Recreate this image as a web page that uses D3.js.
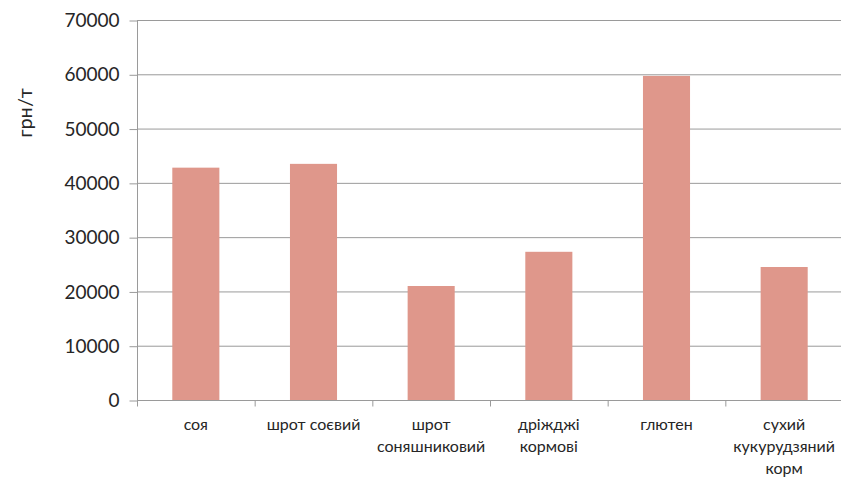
<!DOCTYPE html>
<html>
<head>
<meta charset="utf-8">
<script src="https://cdn.jsdelivr.net/npm/d3@7"></script>
<style>
  html, body { margin: 0; padding: 0; background: #fff; }
  svg { display: block; }
</style>
</head>
<body>
<svg id="chart" width="841" height="477"></svg>
<script>
const categories = ["соя", "шрот соєвий", "шрот соняшниковий", "дріжджі кормові", "глютен", "сухий кукурудзяний корм"];
const values = [42800, 43500, 21000, 27300, 59700, 24500];
const yTicks = [0, 10000, 20000, 30000, 40000, 50000, 60000, 70000];
const yTitle = "грн/т";

const svg = d3.select("#chart");
const mLeft = 137, mRight = 843, mTop = 20, mBottom = 400;

const x = d3.scaleBand().domain(categories).range([mLeft, mRight]).paddingInner(0.6).paddingOuter(0.3);
const y = d3.scaleLinear().domain([0, 70000]).range([mBottom, mTop]);

const gridColor = "#9a9a9a";
const textColor = "#262626";

// gridlines
svg.append("g").selectAll("line").data(yTicks.filter(d => d > 0)).join("line")
  .attr("x1", mLeft).attr("x2", 841)
  .attr("y1", d => y(d) + 0.5).attr("y2", d => y(d) + 0.5)
  .attr("stroke", gridColor).attr("stroke-width", 1);

// bars
svg.append("g").selectAll("rect").data(values).join("rect")
  .attr("x", (d, i) => x(categories[i]))
  .attr("width", x.bandwidth())
  .attr("y", d => y(d))
  .attr("height", d => y(0) - y(d))
  .attr("fill", "#df978b");

// y axis
const yAxis = d3.axisLeft(y).tickValues(yTicks).tickSize(8).tickPadding(10).tickFormat(d3.format("d"));
const gy = svg.append("g").attr("transform", `translate(${mLeft + 0.5},0.5)`).call(yAxis);
gy.select(".domain").attr("stroke", gridColor).attr("d", `M0,${mTop}V${mBottom}`);
gy.selectAll(".tick line").attr("stroke", gridColor);
gy.selectAll(".tick text").attr("fill", textColor).attr("font-family", "Lato, 'Open Sans', sans-serif").attr("font-size", 19);

// x axis
const xEdge = d3.scaleLinear().domain([0, categories.length]).range([mLeft, mRight]);
const gx = svg.append("g").attr("transform", `translate(0,${mBottom + 0.5})`);
gx.append("line").attr("x1", mLeft).attr("x2", 841).attr("stroke", gridColor);
gx.selectAll("line.t").data(d3.range(categories.length + 1)).join("line").attr("class", "t")
  .attr("x1", d => xEdge(d) + 0.5).attr("x2", d => xEdge(d) + 0.5).attr("y1", 0).attr("y2", 6)
  .attr("stroke", gridColor);

const labels = gx.selectAll("text").data(categories).join("text")
  .attr("x", d => x(d) + x.bandwidth() / 2)
  .attr("y", 29)
  .attr("text-anchor", "middle")
  .attr("fill", textColor)
  .attr("font-family", "Lato, 'Open Sans', sans-serif")
  .attr("font-size", 16);

const maxW = x.step() * 0.9;
labels.each(function(d) {
  const t = d3.select(this);
  const cx = +t.attr("x");
  const words = d.split(" ");
  let lines = [];
  let cur = [];
  const probe = t.append("tspan");
  words.forEach(w => {
    const trial = cur.concat([w]).join(" ");
    probe.text(trial);
    if (cur.length && probe.node().getComputedTextLength() > maxW) {
      lines.push(cur.join(" "));
      cur = [w];
    } else cur.push(w);
  });
  lines.push(cur.join(" "));
  probe.remove();
  lines.forEach((ln, i) => {
    t.append("tspan").attr("x", cx).attr("dy", i === 0 ? 0 : 22).text(ln);
  });
});

// y title
svg.append("text")
  .attr("transform", `translate(32,113) rotate(-90)`)
  .attr("text-anchor", "middle")
  .attr("fill", textColor)
  .attr("font-family", "Lato, 'Open Sans', sans-serif")
  .attr("font-size", 20)
  .text(yTitle);
</script>
</body>
</html>
